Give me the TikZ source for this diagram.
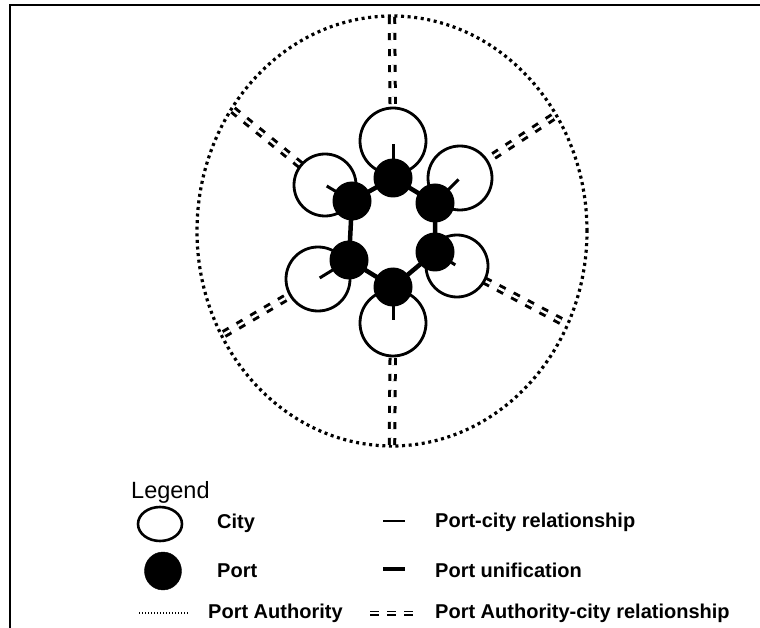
\documentclass[tikz,border=0pt]{standalone}
\usepackage{fontspec}
\setmainfont{Liberation Sans}
\usetikzlibrary{shapes.geometric}
\begin{document}
\begin{tikzpicture}[x=1pt,y=-1pt,
  citynode/.style={circle, draw, line width=2.8pt, fill=white, minimum size=#1, inner sep=0pt},
  portnode/.style={circle, fill=black, minimum size=39pt, inner sep=0pt},
  pcline/.style={line width=3pt},
  unifline/.style={line width=4.5pt},
  paline/.style={line width=3.2pt, dash pattern=on 3pt off 3.6pt},
  pacline/.style={double, double distance=2.4pt, line width=3pt, dash pattern=on 7pt off 9pt},
  frameline/.style={line width=2.5pt},
  lbl/.style={anchor=west, inner sep=0pt, font=\bfseries\fontsize{20}{20}\selectfont}
]
\useasboundingbox (0,0) rectangle (760,628);
% frame
\coordinate (fA) at (10,628);
\coordinate (fB) at (10,5);
\coordinate (fC) at (760,5);
\draw[frameline] (fA) -- (fB) -- (fC);

% port authority ellipse
\node[draw, ellipse, paline, minimum width=390pt, minimum height=430pt, inner sep=0pt] (pa) at (392,231) {};

% ellipse points
\coordinate (eT) at (392,17);
\coordinate (eB) at (392,445);
\coordinate (eUL) at (233,110);
\coordinate (eUR) at (553,117);
\coordinate (eLL) at (224,334);
\coordinate (eLR) at (561,321);

% cities (positions)
\coordinate (cTp) at (393,141);
\coordinate (cULp) at (325,185);
\coordinate (cURp) at (460,178);
\coordinate (cLLp) at (318,279);
\coordinate (cLRp) at (457,266);
\coordinate (cBp) at (393,323);

% PA-city dashed lines to city centres (covered later by white-filled cities)
\draw[pacline] (eT) -- (cTp);
\draw[pacline] (eB) -- (cBp);
\draw[pacline] (eUL) -- (cULp);
\draw[pacline] (eUR) -- (cURp);
\draw[pacline] (eLL) -- (cLLp);
\draw[pacline] (eLR) -- (cLRp);

\node[citynode=66pt] (cT) at (cTp) {};
\node[citynode=62pt] (cUL) at (cULp) {};
\node[citynode=64pt] (cUR) at (cURp) {};
\node[citynode=64pt] (cLL) at (cLLp) {};
\node[citynode=62pt] (cLR) at (cLRp) {};
\node[citynode=66pt] (cB) at (cBp) {};

% ports
\coordinate (pTp) at (393,178);
\coordinate (pULp) at (352,201);
\coordinate (pURp) at (435,203);
\coordinate (pLLp) at (349,260);
\coordinate (pLRp) at (435,252);
\coordinate (pBp) at (393,287);

% port-city ticks
\draw[pcline, shorten >=3pt] (pTp) -- (cT.center);
\draw[pcline, shorten >=2pt] (pULp) -- (cUL.center);
\draw[pcline, shorten >=2pt] (pURp) -- (cUR.center);
\draw[pcline, shorten >=2pt] (pLLp) -- (cLL.center);
\draw[pcline, shorten >=2pt] (pLRp) -- (cLR.center);
\draw[pcline, shorten >=3pt] (pBp) -- (cB.center);

% port unification
\draw[unifline] (pTp) -- (pULp) -- (pLLp) -- (pBp) -- (pLRp) -- (pURp) -- cycle;

\node[portnode] (pT) at (pTp) {};
\node[portnode] (pUL) at (pULp) {};
\node[portnode] (pUR) at (pURp) {};
\node[portnode] (pLL) at (pLLp) {};
\node[portnode] (pLR) at (pLRp) {};
\node[portnode] (pB) at (pBp) {};

% legend
\node[anchor=west, inner sep=0pt, font=\fontsize{23.5}{23.5}\selectfont] (lg) at (131,492) {Legend};
\node[draw, ellipse, line width=2.6pt, minimum width=44pt, minimum height=34pt, inner sep=0pt] (lcity) at (160,524) {};
\node[draw, ellipse, fill=black, minimum width=37pt, minimum height=38pt, inner sep=0pt] (lport) at (163,571) {};
\coordinate (ld1) at (139,613);
\coordinate (ld2) at (188,613);
\draw[line width=1.4pt, dash pattern=on 1.4pt off 1.6pt] (ld1) -- (ld2);

\node[lbl] (tcity) at (217,523) {City};
\node[lbl] (tport) at (217,571) {Port};
\node[lbl] (tpa) at (208,613) {Port Authority};

\coordinate (lt1) at (383,521);
\coordinate (lt2) at (405,521);
\draw[line width=1.8pt] (lt1) -- (lt2);
\coordinate (lu1) at (383,569);
\coordinate (lu2) at (405,569);
\draw[line width=4pt] (lu1) -- (lu2);
\coordinate (lp1) at (370,613);
\coordinate (lp2) at (416,613);
\draw[double, double distance=1.8pt, line width=1.6pt, dash pattern=on 9pt off 8pt] (lp1) -- (lp2);

\node[lbl] (tpc) at (435,522) {Port-city relationship};
\node[lbl] (tpu) at (435,570) {Port unification};
\node[lbl] (tpac) at (435,613) {Port Authority-city relationship};
\end{tikzpicture}
\end{document}
